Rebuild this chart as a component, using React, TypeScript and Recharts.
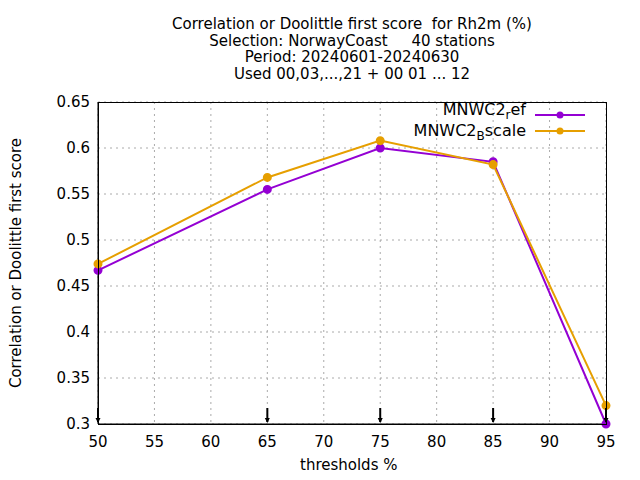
import React from "react";
import { ComposedChart, Line, Scatter, XAxis, YAxis, CartesianGrid } from "recharts";

const thresholds = [50, 65, 75, 85, 95];
const refScores = [0.467, 0.555, 0.6, 0.585, 0.3];
const bscaleScores = [0.474, 0.568, 0.608, 0.582, 0.32];
const xTicks = [50, 55, 60, 65, 70, 75, 80, 85, 90, 95];
const yTicks = [0.3, 0.35, 0.4, 0.45, 0.5, 0.55, 0.6, 0.65];
const titleLines = [
  "Correlation or Doolittle first score  for Rh2m (%)",
  "Selection: NorwayCoast     40 stations",
  "Period: 20240601-20240630",
  "Used 00,03,...,21 + 00 01 ... 12",
];

const data = thresholds.map((t, i) => ({ t, ref: refScores[i], bscale: bscaleScores[i], base: 0.3 }));

const font = "DejaVu Sans, sans-serif";

const Arrow = (props: any) => {
  const { cx, cy } = props;
  return (
    <g>
      <line x1={cx} y1={cy - 16} x2={cx} y2={cy - 2} stroke="#000" strokeWidth={2} />
      <path d={`M${cx - 2.5},${cy - 6} L${cx + 2.5},${cy - 6} L${cx},${cy - 1} Z`} fill="#000" />
    </g>
  );
};

export default function App() {
  return (
    <div style={{ position: "absolute", left: 0, top: 0, width: 640, height: 480, background: "#fff", fontFamily: font }}>
      <div style={{ position: "absolute", left: 0, top: 16, width: 704, textAlign: "center", fontSize: 15, lineHeight: "16.5px" }}>
        {titleLines.map((l) => (
          <div key={l} style={{ whiteSpace: "pre" }}>{l}</div>
        ))}
      </div>
      <ComposedChart width={640} height={480} data={data} margin={{ top: 102, right: 34, bottom: 26, left: 48 }}>
        <CartesianGrid stroke="#aaa" strokeDasharray="2 4" />
        <XAxis dataKey="t" type="number" domain={[50, 95]} ticks={xTicks} height={30}
          tick={{ fill: "#000", fontSize: 15, fontFamily: font }} tickLine={false} axisLine={{ stroke: "#000" }} tickMargin={6} />
        <YAxis type="number" domain={[0.3, 0.65]} ticks={yTicks} width={50}
          tickFormatter={(v: number) => String(+v.toFixed(2))}
          tick={{ fill: "#000", fontSize: 15, fontFamily: font }} tickLine={false} axisLine={{ stroke: "#000" }} />
        <Line dataKey="ref" stroke="#9400d3" strokeWidth={2} dot={{ r: 3.5, fill: "#9400d3", stroke: "#9400d3" }} isAnimationActive={false} />
        <Line dataKey="bscale" stroke="#e69f00" strokeWidth={2} dot={{ r: 3.5, fill: "#e69f00", stroke: "#e69f00" }} isAnimationActive={false} />
        <Scatter dataKey="base" shape={<Arrow />} isAnimationActive={false} />
      </ComposedChart>
      <div style={{ position: "absolute", left: 98, top: 102, width: 509, height: 323, border: "1px solid #000", boxSizing: "border-box", pointerEvents: "none" }} />
      <div style={{ position: "absolute", left: 300, top: 456, fontSize: 15 }}>thresholds %</div>
      <div style={{ position: "absolute", left: 16, top: 263, fontSize: 15, transform: "translate(-50%,-50%) rotate(-90deg)", whiteSpace: "nowrap" }}>
        Correlation or Doolittle first score
      </div>
      <div style={{ position: "absolute", left: 380, top: 100, width: 146, textAlign: "right", fontSize: 16, lineHeight: "20px" }}>
        <div>MNWC2<sub style={{ fontSize: 12 }}>r</sub>ef</div>
        <div style={{ marginTop: -4 }}>MNWC2<sub style={{ fontSize: 12 }}>B</sub>scale</div>
      </div>
      <svg style={{ position: "absolute", left: 535, top: 105 }} width={52} height={30}>
        <line x1={0} y1={10} x2={50} y2={10} stroke="#9400d3" strokeWidth={2} />
        <circle cx={25} cy={10} r={3.5} fill="#9400d3" />
        <line x1={0} y1={26} x2={50} y2={26} stroke="#e69f00" strokeWidth={2} />
        <circle cx={25} cy={26} r={3.5} fill="#e69f00" />
      </svg>
    </div>
  );
}
